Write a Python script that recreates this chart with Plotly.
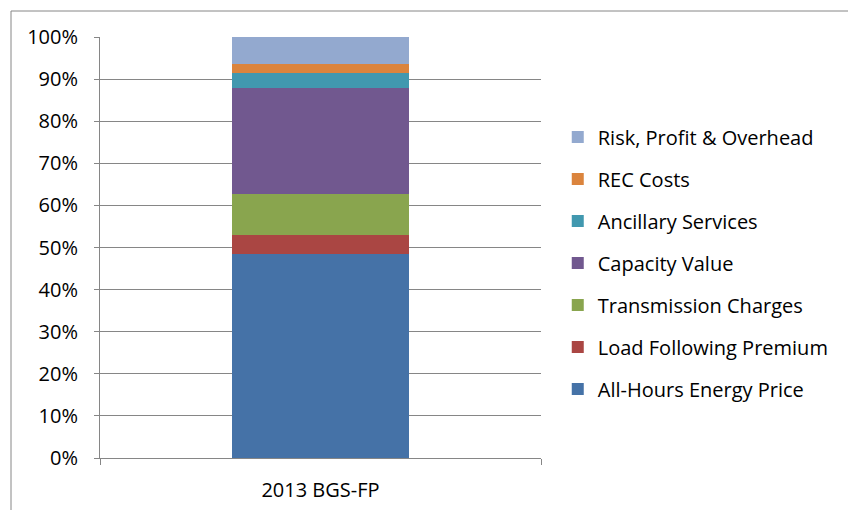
import plotly.graph_objects as go

categories = ["2013 BGS-FP"]
series_names = [
    "All-Hours Energy Price",
    "Load Following Premium",
    "Transmission Charges",
    "Capacity Value",
    "Ancillary Services",
    "REC Costs",
    "Risk, Profit & Overhead",
]
series_values = [
    [48.5],
    [4.5],
    [9.7],
    [25.3],
    [3.5],
    [2.1],
    [6.4],
]
series_colors = ["#4572A7", "#AA4643", "#89A54E", "#71588F", "#4198AF", "#DB843D", "#93A9CF"]
y_ticks = list(range(0, 101, 10))

FONT = "Open Sans"
AX = "#868686"

fig = go.Figure()
n = len(series_names)
for i, (name, vals, col) in enumerate(zip(series_names, series_values, series_colors)):
    fig.add_trace(go.Bar(x=categories, y=vals, name=name, marker=dict(color=col, line=dict(width=0)),
                         legendgroup=name, legendrank=100 + (n - i), width=0.4))

fig.update_layout(
    barmode="stack",
    width=848, height=510,
    margin=dict(l=100, r=307, t=37, b=52),
    paper_bgcolor="white", plot_bgcolor="white",
    font=dict(family=FONT, size=20, color="#000000"),
    showlegend=True,
    legend=dict(traceorder="grouped", tracegroupgap=13, x=1.038, xanchor="left",
                y=0.463, yanchor="middle", font=dict(family=FONT, size=20, color="#000000"),
                bgcolor="rgba(0,0,0,0)"),
    xaxis=dict(type="category", range=[-0.5, 0.5], showline=True, linecolor=AX, linewidth=1,
               ticks="outside", tickson="boundaries", ticklen=6, tickcolor=AX, automargin=False,
               showgrid=False, ticklabelstandoff=14, tickfont=dict(size=20)),
    yaxis=dict(range=[0, 100], tickvals=y_ticks, ticktext=[f"{v}%" for v in y_ticks],
               showline=True, linecolor=AX, linewidth=1, ticks="outside", ticklen=5, tickcolor=AX,
               showgrid=True, gridcolor=AX, gridwidth=1, zeroline=False, ticklabelstandoff=12,
               automargin=False, tickfont=dict(size=20)),
    shapes=[dict(type="rect", xref="paper", yref="paper", x0=(11 - 100) / 441, x1=2.0,
                 y0=-1.0, y1=(458 - 11) / 421, line=dict(color=AX, width=1), layer="below")],
)

fig.write_html("out.html")
